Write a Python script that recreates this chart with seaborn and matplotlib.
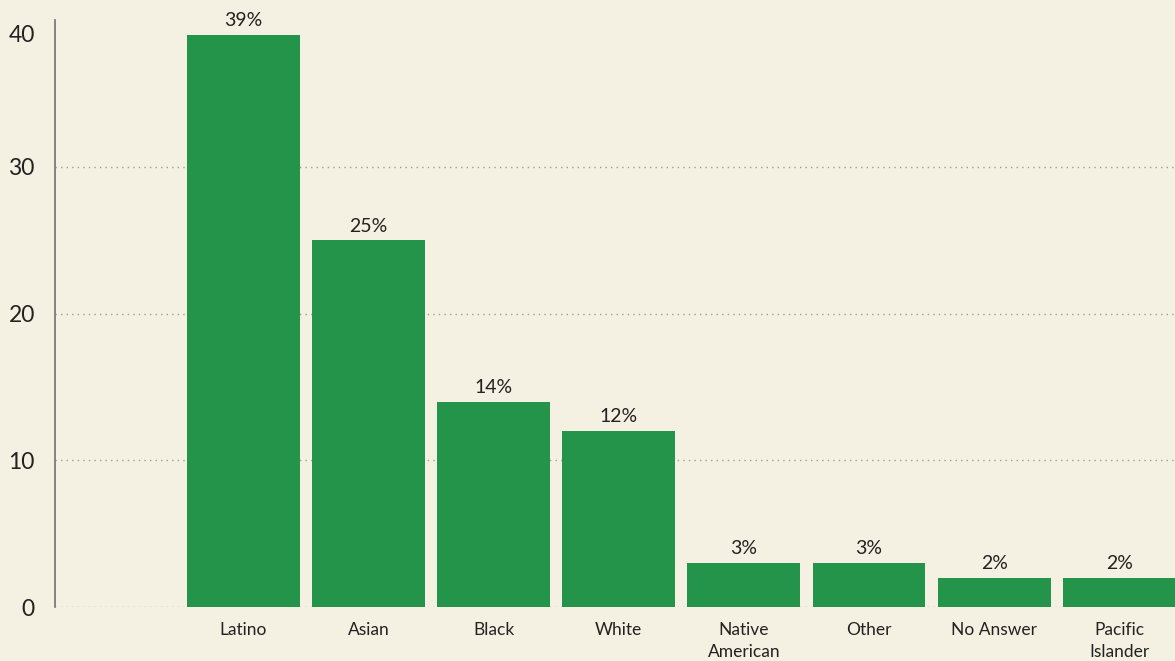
import matplotlib
matplotlib.use("Agg")
import matplotlib.pyplot as plt
import matplotlib.transforms as mtransforms
import seaborn as sns
import pandas as pd

categories = ["Latino", "Asian", "Black", "White", "Native\nAmerican", "Other", "No Answer", "Pacific\nIslander"]
values = [39, 25, 14, 12, 3, 3, 2, 2]
value_labels = ["39%", "25%", "14%", "12%", "3%", "3%", "2%", "2%"]
y_ticks = [0, 10, 20, 30, 40]

BG = "#f4f0e2"
GREEN = "#23944a"
TEXT = "#222222"

sns.set_theme(style="white")
plt.rcParams["font.family"] = ["Lato", "DejaVu Sans"]

fig = plt.figure(figsize=(11.75, 6.61), dpi=100, facecolor=BG)
ax = fig.add_axes([55/1175, (661-607)/661, 1120/1175, (607-20)/661])
ax.set_facecolor(BG)

df = pd.DataFrame({"cat": categories, "val": values})
sns.barplot(data=df, x="cat", y="val", color=GREEN, saturation=1, width=0.903,
            linewidth=0, edgecolor=GREEN, ax=ax, zorder=3)

ax.set_xlim(-1.507, 7.446)
ax.set_ylim(0, 40)
ax.set_yticks(y_ticks)
ax.set_yticklabels([str(v) for v in y_ticks])
ax.set_xlabel("")
ax.set_ylabel("")

ax.yaxis.grid(True, linestyle=(0, (1, 3)), color="#a09f95", linewidth=1.0, zorder=0)
ax.xaxis.grid(False)
gl = ax.yaxis.get_gridlines()
gl[-1].set_visible(False)

for s in ["top", "right", "bottom"]:
    ax.spines[s].set_visible(False)
ax.spines["left"].set_color("#707070")
ax.spines["left"].set_linewidth(1.2)

ax.tick_params(axis="y", length=0, pad=14.5, labelsize=16.5, labelcolor=TEXT)
ax.tick_params(axis="x", length=0, pad=11, labelsize=12.5, labelcolor=TEXT)
for lbl in ax.get_xticklabels():
    lbl.set_linespacing(1.45)

# shift the top tick label down so it fits inside the canvas
ylabels = ax.get_yticklabels()
ylabels[-1].set_transform(ylabels[-1].get_transform() + mtransforms.ScaledTranslation(0, -13/100, fig.dpi_scale_trans))

ax.bar_label(ax.containers[0], labels=value_labels, padding=4, fontsize=14, color=TEXT)

fig.savefig("out.png", dpi=100, facecolor=BG)
